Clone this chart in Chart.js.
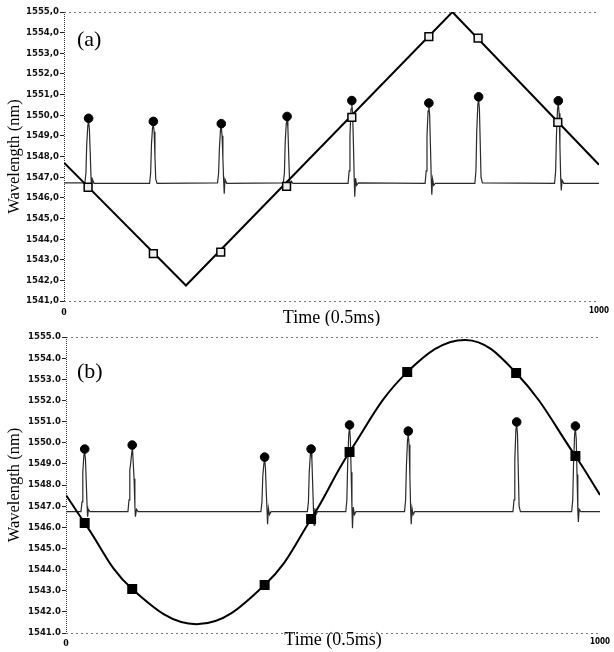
<!DOCTYPE html>
<html>
<head>
<meta charset="utf-8">
<script src="https://cdn.jsdelivr.net/npm/chart.js@4.4.1/dist/chart.umd.min.js"></script>
<style>
  html, body { margin: 0; padding: 0; background: #fff; }
  #wrap { width: 614px; height: 652px; }
  canvas { display: block; }
</style>
</head>
<body>
<div id="wrap">
  <canvas id="chartA" width="614" height="326"></canvas>
  <canvas id="chartB" width="614" height="326"></canvas>
</div>
<script>
// axis ticks (both panels)
const yTicks = [1541, 1542, 1543, 1544, 1545, 1546, 1547, 1548, 1549, 1550, 1551, 1552, 1553, 1554, 1555];
const xTicks = [0, 1000];

// panel (a): triangular scan, [time, wavelength]
const triangleA = [[0, 1547.7], [228, 1541.75], [726, 1555.0], [1000, 1547.6]];
const squaresA = [[45, 1546.51], [167, 1543.29], [293, 1543.37], [416, 1546.55], [538, 1549.9], [682, 1553.81], [774, 1553.73], [923, 1549.65]];
const circlesA = [[46, 1549.85], [167, 1549.7], [294, 1549.59], [417, 1549.94], [538, 1550.71], [682, 1550.59], [775, 1550.89], [924, 1550.7]];
const spikeTraceA = [
  [0, 1546.72], [39, 1546.72], [41, 1547.2], [42.5, 1548.6], [44.5, 1549.5], [46, 1549.7], [47.5, 1549.3], [49, 1548.2], [50.5, 1547.0], [51.5, 1546.5], [53, 1546.9], [56, 1546.7],
  [160, 1546.7], [162, 1547.2], [163.5, 1548.6], [165.5, 1549.4], [167, 1549.55], [168.5, 1549.2], [170, 1548.0], [171.5, 1546.9], [174, 1546.7],
  [287, 1546.72], [289, 1547.2], [290.5, 1548.4], [292.5, 1549.3], [294, 1549.45], [295.5, 1549.0], [297, 1547.9], [298.5, 1546.8], [299.5, 1546.2], [301, 1546.9], [304, 1546.7],
  [410, 1546.72], [412, 1547.2], [413.5, 1548.7], [415.5, 1549.6], [417, 1549.8], [418.5, 1549.4], [420, 1548.1], [421.5, 1546.9], [423, 1546.6], [425, 1546.8], [428, 1546.7],
  [531, 1546.7], [533, 1547.3], [534.5, 1549.0], [536.5, 1550.3], [538, 1550.55], [539.5, 1550.1], [541, 1548.6], [542.5, 1546.9], [543.5, 1546.05], [545, 1546.95], [547, 1546.6], [550, 1546.72],
  [675, 1546.7], [677, 1547.3], [678.5, 1549.0], [680.5, 1550.2], [682, 1550.45], [683.5, 1550.0], [685, 1548.5], [686.5, 1546.9], [687.5, 1546.15], [689, 1546.9], [691, 1546.6], [694, 1546.7],
  [768, 1546.7], [770, 1547.3], [771.5, 1549.2], [773.5, 1550.5], [775, 1550.75], [776.5, 1550.3], [778, 1548.7], [779.5, 1547.0], [782, 1546.72],
  [917, 1546.7], [919, 1547.3], [920.5, 1549.0], [922.5, 1550.3], [924, 1550.55], [925.5, 1550.1], [927, 1548.5], [928.5, 1546.9], [929.5, 1546.35], [931, 1546.85], [934, 1546.7],
  [1000, 1546.7]
];

// panel (b): sinusoidal scan
const sineB = [[0, 1547.53], [35, 1546.2], [124, 1543.08], [248, 1541.42], [372, 1543.27], [459, 1546.39],
  [531, 1549.56], [639, 1553.34], [748, 1554.86], [843, 1553.3], [954, 1549.37], [1000, 1547.53]];
const squaresB = [[35, 1546.2], [124, 1543.08], [372, 1543.27], [459, 1546.39], [531, 1549.56], [639, 1553.34], [843, 1553.3], [954, 1549.37]];
const circlesB = [[35, 1549.7], [124, 1549.89], [372, 1549.32], [459, 1549.7], [531, 1550.84], [641, 1550.55], [844, 1550.98], [954, 1550.79]];
const spikeTraceB = [
  [0, 1546.74], [28, 1546.74], [30, 1547.2], [31.5, 1548.6], [33.5, 1549.4], [35, 1549.55], [36.5, 1549.2], [38, 1548.1], [39.5, 1547.0], [40.5, 1546.5], [42, 1546.85], [45, 1546.74],
  [116, 1546.74], [118, 1547.3], [119.5, 1548.7], [121, 1549.0], [123, 1549.5], [124.5, 1549.75], [126, 1549.0], [127.5, 1548.3], [129, 1547.0], [130, 1546.5], [132, 1546.85], [135, 1546.74],
  [365, 1546.74], [367, 1547.2], [368.5, 1548.4], [370.5, 1549.0], [372, 1549.2], [373.5, 1548.8], [375, 1547.7], [376.5, 1546.8], [377.5, 1546.15], [379, 1546.9], [381, 1546.6], [384, 1546.74],
  [452, 1546.74], [454, 1547.2], [455.5, 1548.6], [457.5, 1549.4], [459, 1549.6], [460.5, 1549.2], [462, 1548.0], [463.5, 1546.8], [464.5, 1546.1], [466, 1546.9], [468, 1546.6], [471, 1546.74],
  [524, 1546.74], [526, 1547.3], [527.5, 1549.0], [529.5, 1550.4], [531, 1550.7], [532.5, 1550.2], [534, 1548.6], [535.5, 1546.9], [536.5, 1545.95], [538, 1546.95], [540, 1546.6], [543, 1546.74],
  [634, 1546.74], [636, 1547.3], [637.5, 1548.9], [639.5, 1550.1], [641, 1550.4], [642.5, 1549.9], [644, 1548.4], [645.5, 1546.8], [646.5, 1546.15], [648, 1546.9], [650, 1546.6], [653, 1546.74],
  [837, 1546.74], [839, 1547.3], [840.5, 1549.2], [842.5, 1550.6], [844, 1550.85], [845.5, 1550.4], [847, 1548.7], [848.5, 1547.0], [851, 1546.74],
  [947, 1546.74], [949, 1547.3], [950.5, 1549.0], [952.5, 1550.4], [954, 1550.65], [955.5, 1550.2], [957, 1548.5], [958.5, 1546.8], [959.5, 1546.25], [961, 1546.85], [964, 1546.74],
  [1000, 1546.74]
];

const toXY = arr => arr.map(p => ({ x: p[0], y: p[1] }));
const serif = "'Liberation Serif', 'Times New Roman', serif";
const narrow = "'Liberation Sans Narrow', 'DejaVu Sans Condensed', sans-serif";

// dotted frame on top, left and bottom, plus the panel letter
const framePlugin = {
  id: 'frame',
  afterDraw(chart, args, opts) {
    const { ctx, chartArea: a } = chart;
    ctx.save();
    ctx.lineWidth = 1;
    ctx.strokeStyle = '#777';
    ctx.setLineDash([2, 3]);
    ctx.beginPath();
    ctx.moveTo(a.left, a.top + 0.5); ctx.lineTo(a.right, a.top + 0.5);
    ctx.moveTo(a.left, a.bottom + 0.5); ctx.lineTo(a.right, a.bottom + 0.5);
    ctx.stroke();
    ctx.strokeStyle = '#333';
    ctx.setLineDash([1, 1]);
    ctx.beginPath();
    ctx.moveTo(a.left + 0.5, a.top); ctx.lineTo(a.left + 0.5, a.bottom);
    ctx.stroke();
    ctx.setLineDash([]);
    ctx.fillStyle = '#000';
    ctx.font = '22px ' + serif;
    ctx.fillText(opts.label, a.left + opts.dx, a.top + opts.dy);
    ctx.restore();
  }
};

function makeChart(id, p) {
  return new Chart(document.getElementById(id), {
    type: 'scatter',
    data: {
      datasets: [
        {
          data: toXY(p.squares), showLine: false, order: 0,
          pointStyle: 'rect', pointRadius: p.sqRadius, pointHoverRadius: p.sqRadius,
          backgroundColor: p.sqFill, borderColor: '#000', pointBorderWidth: 1.5
        },
        {
          data: toXY(p.circles), showLine: false, order: 1,
          pointStyle: 'circle', pointRadius: 4.3, backgroundColor: '#000', borderColor: '#000'
        },
        {
          data: toXY(p.scan), showLine: true, order: 2, pointRadius: 0,
          borderColor: '#000', borderWidth: 2, tension: p.tension
        },
        {
          data: toXY(p.trace), showLine: true, order: 3, pointRadius: 0,
          borderColor: '#2a2a2a', borderWidth: 1.2
        }
      ]
    },
    options: {
      responsive: false,
      animation: false,
      layout: { padding: p.padding },
      plugins: {
        legend: { display: false },
        tooltip: { enabled: false },
        frame: { label: p.label, dx: p.labelDx, dy: p.labelDy }
      },
      scales: {
        x: {
          type: 'linear', min: xTicks[0], max: xTicks[1],
          afterBuildTicks: s => { s.ticks = xTicks.map(v => ({ value: v })); },
          afterFit: s => { s.height = p.xHeight; },
          grid: { display: false, drawTicks: false },
          border: { display: false },
          ticks: {
            padding: p.xTickPad, color: '#000', maxRotation: 0,
            callback: v => String(v),
            font: c => c.tick && c.tick.value === 0 ? { family: serif, size: 11, weight: 'bold' } : { family: narrow, size: 8, weight: 'bold' }
          },
          title: { display: true, text: 'Time (0.5ms)', color: '#000', font: { family: serif, size: 18 }, padding: { top: 0, bottom: p.xTitlePad } }
        },
        y: {
          type: 'linear', min: yTicks[0], max: yTicks[yTicks.length - 1],
          afterBuildTicks: s => { s.ticks = yTicks.map(v => ({ value: v })); },
          afterFit: s => { s.width = p.yWidth; },
          grid: { display: true, drawOnChartArea: false, drawTicks: true, tickLength: 4, tickColor: '#222', color: 'transparent' },
          border: { display: false },
          ticks: {
            padding: 1, color: '#111',
            font: { family: narrow, size: 9.5, weight: 'bold' },
            callback: v => p.fmt(v)
          },
          title: { display: true, text: 'Wavelength (nm)', color: '#000', font: { family: serif, size: 16.5 }, padding: { top: 5, bottom: 0 } }
        }
      }
    },
    plugins: [framePlugin]
  });
}

makeChart('chartA', {
  squares: squaresA, circles: circlesA, scan: triangleA, trace: spikeTraceA, tension: 0,
  sqRadius: 5.5, sqFill: '#eee',
  padding: { left: 0, top: 12, right: 11, bottom: 0 },
  yWidth: 64, xHeight: 25, xTickPad: 5, xTitlePad: -3,
  label: '(a)', labelDx: 13, labelDy: 34,
  fmt: v => v.toFixed(1).replace('.', ',')
});

makeChart('chartB', {
  squares: squaresB, circles: circlesB, scan: sineB, trace: spikeTraceB, tension: 0.4,
  sqRadius: 6, sqFill: '#000',
  padding: { left: 0, top: 11, right: 8, bottom: 0 },
  yWidth: 66, xHeight: 19, xTickPad: 4, xTitlePad: 1,
  label: '(b)', labelDx: 11, labelDy: 41,
  fmt: v => v.toFixed(1)
});
</script>
</body>
</html>
